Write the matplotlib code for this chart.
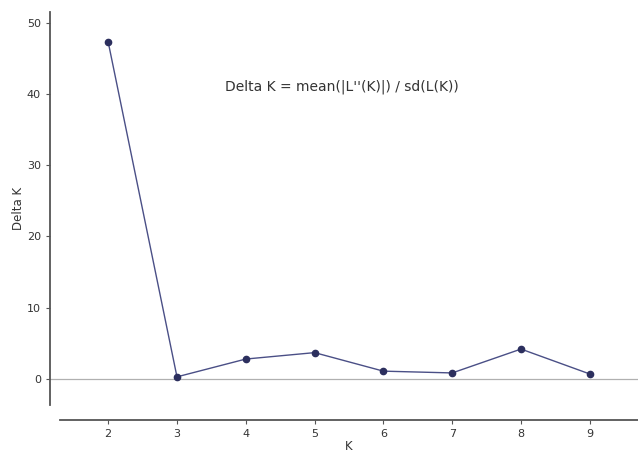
import numpy as np
import matplotlib.pyplot as plt

# Delta K values
K_values = [2, 3, 4, 5, 6, 7, 8, 9]
deltaK = [47.3, 0.3, 2.8, 3.7, 1.1, 0.85, 4.2, 0.7]
yTicks = [0, 10, 20, 30, 40, 50]

lineColour = "#4a4f86"
markerColour = "#2c2f5e"
axisColour = "#555555"

fig = plt.figure(figsize=(6.38, 4.53), dpi=100)
ax = fig.add_axes([60 / 638, 48 / 453, 578 / 638, 393 / 453])

# Zero reference line
ax.axhline(0, xmin=-10 / 578, xmax=1, color="#b0b0b0", linewidth=0.9, clip_on=False, zorder=1)

ax.plot(K_values, deltaK, color=lineColour, linewidth=1.0, marker="o",
        markersize=4.5, markerfacecolor=markerColour, markeredgecolor=markerColour, zorder=3)

ax.set_xlim(1.3, 9.7)
ax.set_ylim(-3.65, 51.5)
ax.set_xticks(K_values)
ax.set_yticks(yTicks)

# Detached spines, R style (offsets in points: 10 px and 15 px at 100 dpi)
ax.spines["top"].set_visible(False)
ax.spines["right"].set_visible(False)
ax.spines["left"].set_position(("outward", 7.2))
ax.spines["bottom"].set_position(("outward", 10.8))
for side in ["left", "bottom"]:
    ax.spines[side].set_color(axisColour)
    ax.spines[side].set_linewidth(1.3)

ax.tick_params(axis="both", colors=axisColour, labelsize=8, length=3, width=0.8, labelcolor="#333333")

ax.set_xlabel("K", fontsize=8.5, color="#333333", labelpad=1)
ax.set_ylabel("Delta K", fontsize=8.5, color="#333333", labelpad=1)

ax.text(0.488, 0.81, "Delta K = mean(|L''(K)|) / sd(L(K))", transform=ax.transAxes,
        ha="center", va="center", fontsize=10, color="#333333")

fig.savefig("out.png", dpi=100)
